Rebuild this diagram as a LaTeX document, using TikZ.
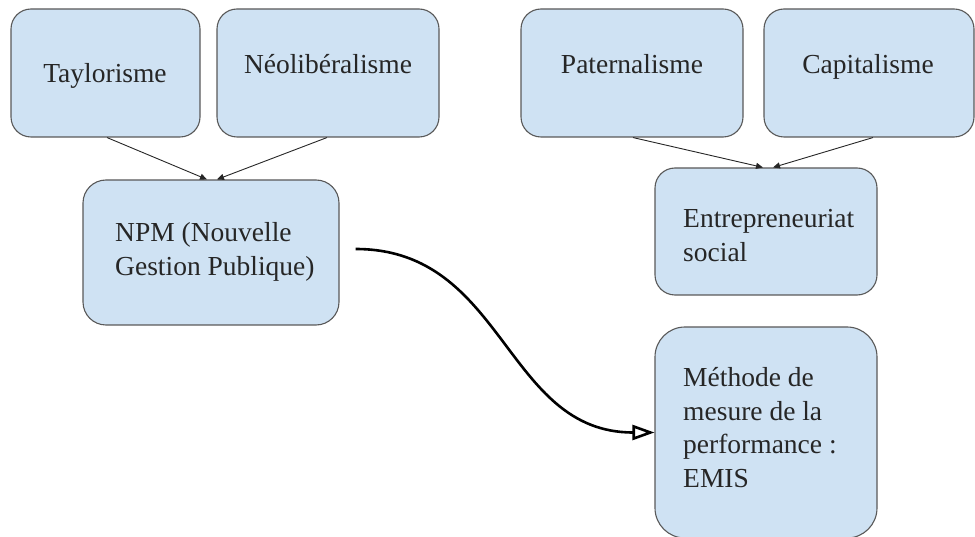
\documentclass[tikz,border=0pt]{standalone}
\usepackage{fontspec}
\setmainfont{Liberation Serif}
\usetikzlibrary{arrows.meta}

\definecolor{boxfill}{HTML}{CFE2F3}
\definecolor{boxline}{HTML}{595959}
\definecolor{inktext}{HTML}{262626}

\begin{document}
\begin{tikzpicture}[x=1pt, y=-1pt,
  box/.style={draw=boxline, fill=boxfill, line width=1.1pt, inner sep=0pt},
  label/.style={text=inktext, inner sep=0pt,
    font=\fontsize{27.5}{33.5}\selectfont},
  feed/.style={draw=black!85, line width=0.9pt, -{Triangle[length=7pt, width=6pt]}},
  flow/.style={draw=black, line width=2.6pt,
    -{Triangle[open, length=22pt, width=15pt, line width=2.6pt]}}
]
\useasboundingbox (0,0) rectangle (975,537);

% upper row of source boxes
\node[box, rounded corners=20pt, minimum width=189pt, minimum height=128pt] (tay) at (105.5,73) {};
\node[box, rounded corners=20pt, minimum width=222pt, minimum height=128pt] (neo) at (328,73) {};
\node[box, rounded corners=20pt, minimum width=222pt, minimum height=128pt] (pat) at (632,73) {};
\node[box, rounded corners=20pt, minimum width=210pt, minimum height=128pt] (cap) at (869,73) {};

% derived boxes
\node[box, rounded corners=23pt, minimum width=256pt, minimum height=145pt] (npm) at (211,252.5) {};
\node[box, rounded corners=20pt, minimum width=222pt, minimum height=127pt] (ent) at (766,231.5) {};
\node[box, rounded corners=30pt, minimum width=222pt, minimum height=211pt] (met) at (766,432.5) {};

% texts
\node[label, anchor=base] (tayt) at (105,83) {Taylorisme};
\node[label, anchor=base] (neot) at (328,74) {Néolibéralisme};
\node[label, anchor=base] (patt) at (632,74) {Paternalisme};
\node[label, anchor=base] (capt) at (868,74) {Capitalisme};
\node[label, anchor=base west] (npmt) at (115,242)
  {\begin{tabular}[t]{@{}l@{}}NPM (Nouvelle\\Gestion Publique)\end{tabular}};
\node[label, anchor=base west] (entt) at (683,228)
  {\begin{tabular}[t]{@{}l@{}}Entrepreneuriat\\social\end{tabular}};
\node[label, anchor=base west] (mett) at (683,387)
  {\begin{tabular}[t]{@{}l@{}}Méthode de\\mesure de la\\performance :\\EMIS\end{tabular}};

% connectors
\draw[feed] ([xshift=1.5pt]tay.south) -- ([xshift=-4pt]npm.north);
\draw[feed] ([xshift=-1pt]neo.south) -- ([xshift=6pt]npm.north);
\draw[feed] ([xshift=1pt]pat.south) -- ([xshift=-3pt]ent.north);
\draw[feed] ([xshift=4pt]cap.south) -- ([xshift=7pt]ent.north);
\draw[flow] ([xshift=16pt, yshift=3.5pt]npm.east)
  .. controls +(150,0) and +(-150,0) .. (met.west);
\end{tikzpicture}
\end{document}
